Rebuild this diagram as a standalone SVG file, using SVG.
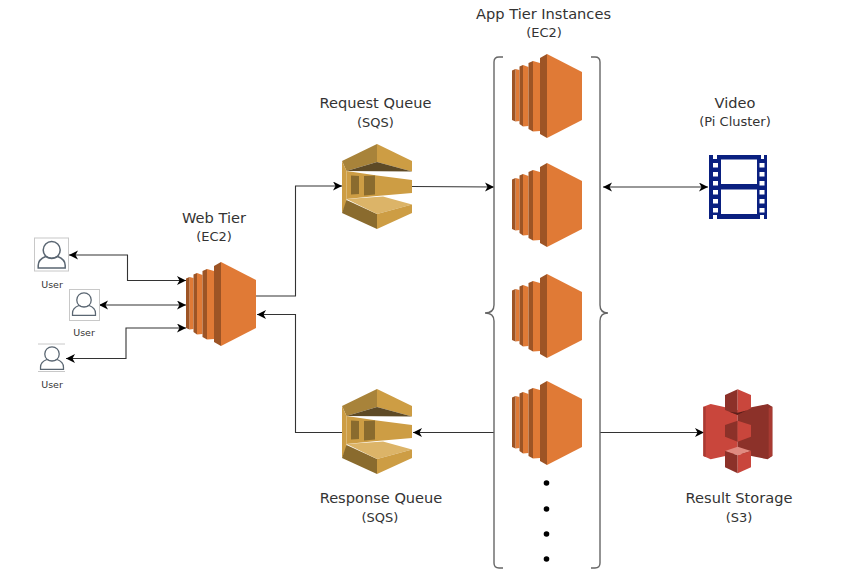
<svg xmlns="http://www.w3.org/2000/svg" width="848" height="581" viewBox="0 0 848 581">
<style>
text{font-family:"DejaVu Sans","Noto Sans","Liberation Sans",sans-serif;fill:#333;text-anchor:middle}
.t{font-size:14.600px}
.s{font-size:13px}
.u{font-size:9.500px}
.c{fill:none;stroke:#333;stroke-width:1.1}
.b{fill:none;stroke:#666;stroke-width:1.4}
.ub{fill:#fff;stroke:#c8c8c8;stroke-width:1}
.hole{fill:#fff}
.d{fill:#9d5425}
.o{fill:#e07a36}
</style>
<defs>
<marker id="a" markerUnits="userSpaceOnUse" markerWidth="11" markerHeight="10" refX="9" refY="4.500" orient="auto-start-reverse"><path d="M0 0L9 4.500L0 9L2.500 4.500Z" fill="#000"/></marker>
<symbol id="ec2" viewBox="0 0 70 84" width="70" height="84" overflow="visible">
<path class="o" d="M3.500 15L7.500 16V67L3.500 67.500Z"/><path class="d" d="M0 16.500L3.500 15V67.500L0 66Z"/>
<path class="o" d="M11 11L16.500 13V72L11 72.500Z"/><path class="d" d="M7.500 12.500L11 11V72.500L7.500 70Z"/>
<path class="o" d="M21 7L28 9V77L21 77.500Z"/><path class="d" d="M16.500 9L21 7V77.500L16.500 75Z"/>
<path class="d" d="M28 4L35 0V84L28 80Z"/>
<path class="o" d="M35 0L70 18V66L35 84Z"/>
</symbol>
<symbol id="sqs" viewBox="0 0 70 85" width="70" height="85" overflow="visible">
<path d="M0 17L35 0V18L4.500 27Z" fill="#a8833a"/>
<path d="M35 0L70 17V27.500L35 18Z" fill="#cd9d44"/>
<path d="M4.500 27L35 18L70 27.500Z" fill="#5e4a26"/>
<path d="M4.500 27L35 31.500L70 36V49L35 52L4.500 55Z" fill="#cd9d44"/>
<path d="M9 31.500L17 32V50L9 50.500Z" fill="#8a6b2e"/><path d="M22 32L33 31.500V50.500L22 51.500Z" fill="#8a6b2e"/>
<path d="M0 17L4.500 27V59L0 69Z" fill="#cd9d44"/>
<path d="M0 69L4.500 56L35 70V85Z" fill="#8a6b2e"/>
<path d="M4.500 55L41 52.500L70 60.500L35 70Z" fill="#dcb468"/>
<path d="M35 70L70 60.500V69L35 85Z" fill="#cd9d44"/>
</symbol>
<symbol id="usr" viewBox="-16 -12 32 32" width="32" height="32" overflow="visible">
<circle cx="0" cy="0" r="8.500" fill="#fff" stroke="#5a6672" stroke-width="1.500"/>
<path d="M-6 6.500C-10 8-13.500 10.500-13.500 15.500V18H13.500V15.500C13.500 10.500 10 8 6 6.500C2 9-2 9-6 6.500Z" fill="#fff" stroke="#5a6672" stroke-width="1.500"/>
</symbol>
</defs>
<rect width="848" height="581" fill="#fff"/>
<g id="connectors">
<path class="c" marker-start="url(#a)" marker-end="url(#a)" d="M69 255H127.500V280.500H186"/>
<path class="c" marker-start="url(#a)" marker-end="url(#a)" d="M99 305H186"/>
<path class="c" marker-start="url(#a)" marker-end="url(#a)" d="M66 358.500H126V328H186"/>
<path class="c" marker-end="url(#a)" d="M256 296H295.500V186H342"/>
<path class="c" marker-end="url(#a)" d="M342 432.500H295.500V314.500H257"/>
<path class="c" marker-end="url(#a)" d="M412 186.500L494 187"/>
<path class="c" marker-end="url(#a)" d="M494 432.500H413"/>
<path class="c" marker-start="url(#a)" marker-end="url(#a)" d="M603 187H708"/>
<path class="c" marker-end="url(#a)" d="M600 432.500H704"/>
</g>
<g id="bracket-left"><path class="b" d="M503 57H499Q494 57 494 62V305Q494 313 485 313Q494 313 494 321V563Q494 568 499 568H503"/></g>
<g id="bracket-right"><path class="b" d="M591 57H595Q600 57 600 62V305Q600 313 608 313Q600 313 600 321V563Q600 568 595 568H591"/></g>
<g id="user1"><rect class="ub" x="34.500" y="238" width="34" height="33"/><use href="#usr" x="35.700" y="238"/><text class="u" x="52" y="288">User</text></g>
<g id="user2"><rect class="ub" x="69.500" y="289.500" width="30" height="31"/><use href="#usr" transform="translate(84 300) scale(.85) translate(-16 -12)"/><text class="u" x="84" y="336">User</text></g>
<g id="user3"><path d="M38 344H65M38 371.500H65" stroke="#c8c8c8" fill="none"/><use href="#usr" transform="translate(52 354) scale(.85) translate(-16 -12)"/><text class="u" x="52" y="388">User</text></g>
<g id="web-tier"><use href="#ec2" x="186" y="262"/><text class="t" x="214" y="223">Web Tier</text><text class="s" x="214" y="241">(EC2)</text></g>
<g id="request-queue"><use href="#sqs" x="342" y="144"/><text class="t" x="375.500" y="108">Request Queue</text><text class="s" x="375.500" y="127">(SQS)</text></g>
<g id="response-queue"><use href="#sqs" x="342" y="389"/><text class="t" x="381" y="503">Response Queue</text><text class="s" x="380" y="522">(SQS)</text></g>
<g id="app-tier"><text class="t" x="543.500" y="19">App Tier Instances</text><text class="s" x="544" y="37">(EC2)</text>
<use href="#ec2" x="512" y="54"/><use href="#ec2" x="512" y="163"/><use href="#ec2" x="512" y="274"/><use href="#ec2" x="512" y="381"/>
<g fill="#000"><circle cx="546.500" cy="483" r="2.800"/><circle cx="546.500" cy="509" r="2.800"/><circle cx="546.500" cy="534" r="2.800"/><circle cx="546.500" cy="559" r="2.800"/></g></g>
<g id="video"><path fill="#0a2080" d="M709 155H713V159H717V155H757V155H761V159H764V155H767V219H764V215H760V219H757H717V215H713V219H709Z"/>
<path class="hole" d="M721 159.500H757V184H721ZM721 189.500H757V214H721Z"/>
<g class="hole"><rect x="713" y="163" width="5" height="4.500"/><rect x="713" y="172" width="5" height="4.500"/><rect x="713" y="181" width="5" height="4.500"/><rect x="713" y="190" width="5" height="4.500"/><rect x="713" y="199" width="5" height="4.500"/><rect x="713" y="208" width="5" height="4.500"/><rect x="759.500" y="163" width="5" height="4.500"/><rect x="759.500" y="172" width="5" height="4.500"/><rect x="759.500" y="181" width="5" height="4.500"/><rect x="759.500" y="190" width="5" height="4.500"/><rect x="759.500" y="199" width="5" height="4.500"/><rect x="759.500" y="208" width="5" height="4.500"/></g>
<text class="t" x="735" y="108">Video</text><text class="s" x="735" y="126">(Pi Cluster)</text></g>
<g id="result-storage"><g transform="translate(690 380) scale(.3333)">
<path d="M40 80L62 72L143 90V220L62 238L40 228Z" fill="#c9463c"/>
<path d="M40 80L47 82V231L40 228Z" fill="#a83a32"/>
<path d="M247 80L233 72L143 90V220L233 238L247 228Z" fill="#8c3129"/>
<path d="M247 80L236 84V232L247 228Z" fill="#a83a32"/>
<path d="M105 45L143 28V105L105 90Z" fill="#8c3129"/><path d="M183 45L143 28V105L183 85Z" fill="#c9463c"/>
<path d="M118 95L143 105L172 91L143 98Z" fill="#5e201b"/>
<path d="M105 135L143 122V185L105 170Z" fill="#8c3129"/><path d="M183 135L143 122V185L183 170Z" fill="#c9463c"/>
<path d="M105 213L143 200L183 213L143 226Z" fill="#e08a80"/>
<path d="M105 213L143 226V280L105 262Z" fill="#8c3129"/><path d="M183 213L143 226V280L183 262Z" fill="#c9463c"/>
</g><text class="t" x="739" y="503">Result Storage</text><text class="s" x="739" y="522">(S3)</text></g>
</svg>
